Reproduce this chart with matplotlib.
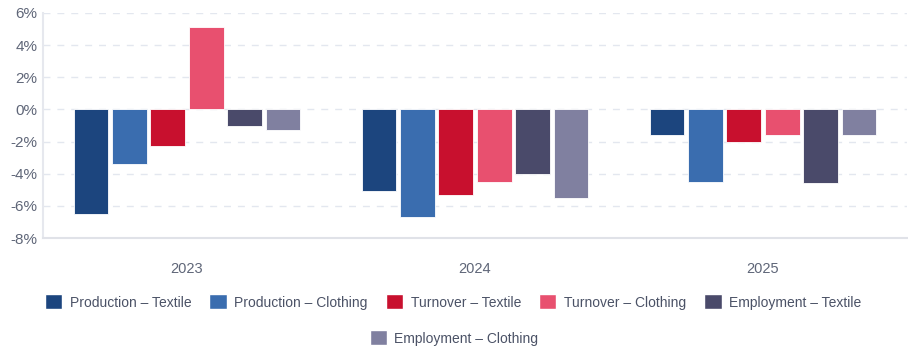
import matplotlib
matplotlib.use("Agg")
import matplotlib.pyplot as plt
import numpy as np
from matplotlib.patches import Patch
from matplotlib.ticker import FuncFormatter

plt.rcParams['font.family'] = ['Liberation Sans', 'DejaVu Sans']

years = ["2023", "2024", "2025"]
series_names = ["Production – Textile", "Production – Clothing", "Turnover – Textile",
                "Turnover – Clothing", "Employment – Textile", "Employment – Clothing"]
production_textile = [-6.5, -5.1, -1.6]
production_clothing = [-3.4, -6.7, -4.5]
turnover_textile = [-2.3, -5.3, -2.0]
turnover_clothing = [5.1, -4.5, -1.6]
employment_textile = [-1.0, -4.0, -4.6]
employment_clothing = [-1.3, -5.5, -1.6]
series_values = [production_textile, production_clothing, turnover_textile,
                 turnover_clothing, employment_textile, employment_clothing]
colors = ["#1c457e", "#3a6daf", "#c8102e", "#e8506f", "#4a4a6a", "#8080a0"]

fig = plt.figure(figsize=(9.08, 3.6), dpi=100)
ax = fig.add_axes([43/908, (360-238)/360, 864/908, 225/360])

x = np.arange(len(years))
n = len(series_values)
slot = 0.8 / n
for i, (vals, c) in enumerate(zip(series_values, colors)):
    offs = -0.4 + slot * (i + 0.5)
    ax.bar(x + offs, vals, width=slot * 0.91, color=c, edgecolor='white', linewidth=0.6, zorder=3)

ax.set_xlim(-0.5, 2.5)
ax.set_ylim(-8, 6)
ax.set_yticks(np.arange(-8, 7, 2))
ax.yaxis.set_major_formatter(FuncFormatter(lambda v, p: f"{int(v)}%"))
ax.set_xticks(x)
ax.set_xticklabels(years)
ax.grid(axis='y', color='#e3e7ef', linestyle=(0, (5, 5)), linewidth=1, zorder=0)
for s in ['top', 'right']:
    ax.spines[s].set_visible(False)
ax.spines['left'].set_color('#e6e8ee')
ax.spines['left'].set_linewidth(1.5)
ax.spines['bottom'].set_color('#e0e2e8')
ax.spines['bottom'].set_linewidth(1.5)
ax.tick_params(axis='x', length=0, labelsize=10.5, colors='#5f6678', pad=17)
ax.tick_params(axis='y', length=0, labelsize=11, colors='#5f6678', pad=4)

handles = [Patch(facecolor=c, edgecolor='white') for c in colors]
common = dict(frameon=False, fontsize=10, handlelength=1.25, handleheight=1.25,
              handletextpad=0.55, labelcolor='#4b5266')
leg1 = fig.legend(handles[:5], series_names[:5], ncol=5, loc='center',
                  bbox_to_anchor=(453/908, 1 - 302/360), columnspacing=1.3, **common)
leg2 = fig.legend(handles[5:], series_names[5:], ncol=1, loc='center',
                  bbox_to_anchor=(454/908, 1 - 338/360), **common)
fig.savefig("out.png", dpi=100)
